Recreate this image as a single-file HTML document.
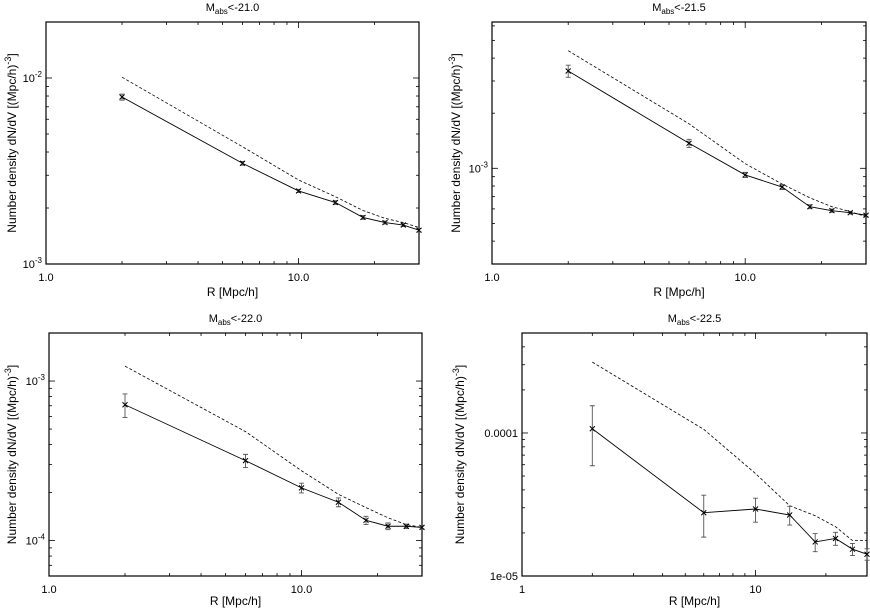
<!DOCTYPE html>
<html><head><meta charset="utf-8"><style>
body{margin:0;background:#fff;}
svg{display:block;font-family:"Liberation Sans",sans-serif;}
</style></head><body>
<svg id="chart" width="870" height="610" viewBox="0 0 870 610" xmlns="http://www.w3.org/2000/svg"></svg>
<script>
const radii = [2, 6, 10, 14, 18, 22, 26, 30];
const titles = ["-21.0", "-21.5", "-22.0", "-22.5"];
const obs1 = [7.9e-3, 3.48e-3, 2.47e-3, 2.14e-3, 1.78e-3, 1.67e-3, 1.62e-3, 1.52e-3];
const err1 = [0.3e-3, 0.08e-3, 0.05e-3, 0.05e-3, 0.04e-3, 0.03e-3, 0.03e-3, 0.03e-3];
const model1 = [1.01e-2, 4.27e-3, 2.83e-3, 2.30e-3, 1.94e-3, 1.76e-3, 1.67e-3, 1.57e-3];
const obs2 = [3.40e-3, 1.37e-3, 9.2e-4, 7.9e-4, 6.17e-4, 5.87e-4, 5.72e-4, 5.54e-4];
const err2 = [0.26e-3, 0.07e-3, 0.03e-3, 0.025e-3, 0.015e-3, 0.012e-3, 0.01e-3, 0.01e-3];
const model2 = [4.39e-3, 1.75e-3, 1.06e-3, 8.2e-4, 6.9e-4, 6.17e-4, 5.8e-4, 5.44e-4];
const obs3 = [7.1e-4, 3.17e-4, 2.14e-4, 1.74e-4, 1.34e-4, 1.23e-4, 1.23e-4, 1.21e-4];
const err3 = [1.2e-4, 0.3e-4, 0.15e-4, 0.11e-4, 0.08e-4, 0.06e-4, 0.04e-4, 0.03e-4];
const model3 = [1.24e-3, 4.82e-4, 2.74e-4, 1.95e-4, 1.61e-4, 1.39e-4, 1.26e-4, 1.21e-4];
const obs4 = [1.07e-4, 2.77e-5, 2.94e-5, 2.67e-5, 1.73e-5, 1.83e-5, 1.54e-5, 1.42e-5];
const err4 = [0.48e-4, 0.9e-5, 0.56e-5, 0.4e-5, 0.25e-5, 0.19e-5, 0.15e-5, 0.13e-5];
const model4 = [3.13e-4, 1.06e-4, 5.2e-5, 3.1e-5, 2.64e-5, 2.21e-5, 1.77e-5, 1.77e-5];
const yRanges = [[1e-3, 2e-2], [3e-4, 6.3e-3], [6e-5, 2e-3], [1e-5, 5e-4]];
const yMajorLabels = [[[1e-2, "-2"], [1e-3, "-3"]], [[1e-3, "-3"]], [[1e-3, "-3"], [1e-4, "-4"]], [[1e-4, "0.0001"], [1e-5, "1e-05"]]];
const xLabels = [["1.0", "10.0"], ["1.0", "10.0"], ["1.0", "10.0"], ["1", "10"]];

const boxes = [
  {l:46, r:419, t:22, b:264, ylx:16, xt:32},
  {l:492, r:866, t:22, b:264, ylx:460, xt:32},
  {l:49, r:422, t:333, b:576, ylx:16, xt:29},
  {l:522, r:867, t:333, b:576, ylx:464, xt:29}
];
const obsAll=[obs1,obs2,obs3,obs4], errAll=[err1,err2,err3,err4], modAll=[model1,model2,model3,model4];
const NS="http://www.w3.org/2000/svg";
const svg=document.getElementById('chart');
function mk(tag, attrs, parent){const e=document.createElementNS(NS,tag);for(const k in attrs)e.setAttribute(k,attrs[k]);(parent||svg).appendChild(e);return e;}

boxes.forEach((B,i)=>{
  const g=mk('g',{});
  
  
  const [y0,y1]=yRanges[i];
  const xs=v=>B.l+(B.r-B.l)*Math.log10(v)/Math.log10(30);
  const ys=v=>B.b-(B.b-B.t)*(Math.log10(v)-Math.log10(y0))/(Math.log10(y1)-Math.log10(y0));
  const fr=mk('rect',{x:B.l,y:B.t,width:B.r-B.l,height:B.b-B.t,fill:'none',stroke:'#000','stroke-width':1.2},g);
  
  
  const xt=[1,2,3,4,5,6,7,8,9,10,20,30];
  xt.forEach(v=>{const x=xs(v);const L=(v===1||v===10)?6:3;
    mk('line',{x1:x,x2:x,y1:B.b,y2:B.b-L,stroke:'#000','stroke-width':0.8},g);
    mk('line',{x1:x,x2:x,y1:B.t,y2:B.t+L,stroke:'#000','stroke-width':0.8},g);});
  [1,10].forEach((v,k)=>{const t=mk('text',{x:xs(v),y:B.b+17,'font-size':11,'text-anchor':'middle'},g);t.textContent=xLabels[i][k];
    
    });
  for(let e=-6;e<=-1;e++){for(let m=1;m<=9;m++){const v=m*Math.pow(10,e);
    if(v<y0*0.999||v>y1*1.001)continue;const y=ys(v);const L=m===1?6:3;
    mk('line',{x1:B.l,x2:B.l+L,y1:y,y2:y,stroke:'#000','stroke-width':0.8},g);
    mk('line',{x1:B.r,x2:B.r-L,y1:y,y2:y,stroke:'#000','stroke-width':0.8},g);}}
  yMajorLabels[i].forEach(([v,lab])=>{const y=ys(v);
    const t=mk('text',{x:B.l-4,y:y+4,'font-size':11,'text-anchor':'end'},g);
    
    
    if(i<3){t.textContent='10';const s=mk('tspan',{dy:-5,'font-size':8},t);s.textContent=lab;}
    else t.textContent=lab;});
  const tt=mk('text',{x:(B.l+B.r)/2,y:B.t-11,'font-size':11,'text-anchor':'middle'},g);
  
  
  tt.textContent='M';const sb=mk('tspan',{dy:3,'font-size':8},tt);sb.textContent='abs';
  const s2=mk('tspan',{dy:-3},tt);s2.textContent='<'+titles[i];
  const xl=mk('text',{x:(B.l+B.r)/2,y:B.b+B.xt,'font-size':12,'text-anchor':'middle'},g);
  
  
  xl.textContent='R [Mpc/h]';
  const cy=(B.t+B.b)/2;
  const yl=mk('text',{x:B.ylx,y:cy,'font-size':12,'text-anchor':'middle',transform:`rotate(-90 ${B.ylx} ${cy})`},g);
  
  
  yl.textContent='Number density dN/dV [(Mpc/h)';const s3=mk('tspan',{dy:-5,'font-size':9},yl);s3.textContent='-3';
  const s4=mk('tspan',{dy:5},yl);s4.textContent=']';
  const mp=mk('polyline',{points:radii.map((r,k)=>xs(r)+','+ys(modAll[i][k])).join(' '),fill:'none',stroke:'#000','stroke-width':0.8,'stroke-dasharray':'3,2'},g);
  
  
  const op=mk('polyline',{points:radii.map((r,k)=>xs(r)+','+ys(obsAll[i][k])).join(' '),fill:'none',stroke:'#000','stroke-width':0.9},g);
  
  
  radii.forEach((r,k)=>{const x=xs(r),v=obsAll[i][k],e=errAll[i][k];
    const yt=ys(v+e),yb=ys(Math.max(v-e,y0*1.0001)),y=ys(v);
    const eb=mk('path',{d:`M${x},${yt}V${yb}M${x-2.5},${yt}H${x+2.5}M${x-2.5},${yb}H${x+2.5}`,stroke:'#555','stroke-width':0.9,fill:'none'},g);
    
    
    const pt=mk('path',{d:`M${x-2.5},${y-2.5}L${x+2.5},${y+2.5}M${x-2.5},${y+2.5}L${x+2.5},${y-2.5}`,stroke:'#000','stroke-width':1},g);
    
    });
});
</script>
</body></html>
